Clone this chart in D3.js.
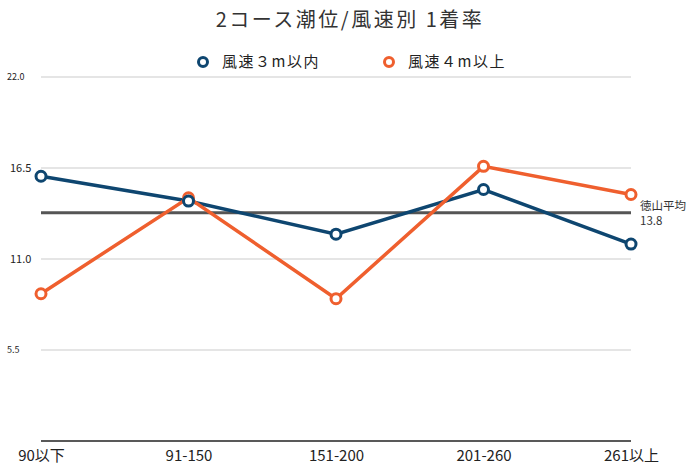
<!DOCTYPE html>
<html><head><meta charset="utf-8">
<script src="https://cdn.jsdelivr.net/npm/d3@7"></script>
<style>body{margin:0;background:#fff;}svg{display:block;font-family:"Noto Sans CJK JP","Noto Sans",sans-serif;}</style>
</head><body><svg id="c" width="700" height="466"></svg>
<script>
const categories = ["90以下","91-150","151-200","201-260","261以上"];
const seriesNames = ["風速３m以内","風速４m以上"];
const calmValues = [16.0, 14.5, 12.5, 15.2, 11.9];
const windyValues = [8.9, 14.7, 8.6, 16.6, 14.9];
const yTicks = [5.5, 11.0, 16.5, 22.0];
const averageValue = 13.8;
const averageLabel = "徳山平均";
const colors = ["#0e4670", "#ef5f2e"];

const svg = d3.select("#c");
const x = d3.scalePoint().domain(categories).range([41, 631]);
const y = d3.scaleLinear().domain([0, 22]).range([441, 77]);

svg.append("text").attr("x", 350).attr("y", 27).attr("text-anchor","middle")
  .attr("font-size", 20).attr("fill","#333").attr("letter-spacing","2.5").text("2コース潮位/風速別 1着率");

// grid
svg.append("g").selectAll("line").data(yTicks).join("line")
  .attr("x1", 41).attr("x2", 631).attr("y1", d=>y(d)).attr("y2", d=>y(d))
  .attr("stroke","#dcdcdc").attr("stroke-width",1.5);
svg.append("g").selectAll("text").data(yTicks).join("text")
  .attr("x", d=> (d===22||d===5.5)?7:10).attr("y", d=>y(d)).attr("dy","0.35em")
  .attr("font-size", d=> (d===22||d===5.5)?9:11).attr("fill","#222")
  .text(d=>d.toFixed(1));

// x axis
const xAxis = svg.append("g").attr("transform","translate(0,441)")
  .call(d3.axisBottom(x).tickSize(0).tickPadding(9));
xAxis.select(".domain").attr("d","M41,0H631").attr("stroke","#222").attr("stroke-width",1.5);
xAxis.selectAll("text").attr("font-size",15).attr("fill","#222").attr("font-family","\"Noto Sans CJK JP\",sans-serif");

// average line
svg.append("line").attr("x1",41).attr("x2",631).attr("y1",y(averageValue)).attr("y2",y(averageValue))
  .attr("stroke","#555").attr("stroke-width",3);
svg.append("text").attr("x",640).attr("y",y(averageValue)-3).attr("font-size",11.5).attr("fill","#333").text(averageLabel);
svg.append("text").attr("x",640).attr("y",y(averageValue)+12).attr("font-size",11.5).attr("fill","#333").text(averageValue.toFixed(1));

const line = d3.line().x((d,i)=>x(categories[i])).y(d=>y(d));
[calmValues, windyValues].forEach((vals, k) => {
  svg.append("path").datum(vals).attr("d", line).attr("fill","none")
    .attr("stroke", colors[k]).attr("stroke-width",3.5);
});
[windyValues, calmValues].forEach((vals) => {
  const k = vals === calmValues ? 0 : 1;
  svg.append("g").selectAll("circle").data(vals).join("circle")
    .attr("cx",(d,i)=>x(categories[i])).attr("cy",d=>y(d)).attr("r",5)
    .attr("fill","#fff").attr("stroke",colors[k]).attr("stroke-width",3);
});

// legend
const legX = [203, 389];
seriesNames.forEach((n,k)=>{
  svg.append("circle").attr("cx",legX[k]).attr("cy",62).attr("r",4.5).attr("fill","#fff")
    .attr("stroke",colors[k]).attr("stroke-width",3);
  svg.append("text").attr("x",legX[k]+19).attr("y",67).attr("font-size",15).attr("letter-spacing","1.5")
    .attr("fill","#222").text(n);
});
</script></body></html>
